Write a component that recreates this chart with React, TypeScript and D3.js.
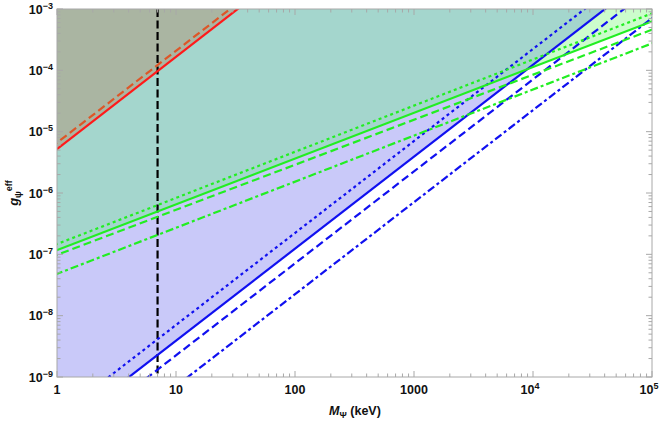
import React from "react";
import * as d3 from "d3";

const W = 664;
const H = 426;
const plotLeft = 57;
const plotRight = 652;
const plotTop = 9;
const plotBottom = 377;

const xDomain = [1, 1e5];
const yDomain = [1e-9, 1e-3];

const xMajorTicks = [1, 10, 100, 1000, 1e4, 1e5];
const xTickBase = ["1", "10", "100", "1000", "10", "10"];
const xTickExp = ["", "", "", "", "4", "5"];
const yMajorTicks = [1e-9, 1e-8, 1e-7, 1e-6, 1e-5, 1e-4, 1e-3];
const yTickExp = ["−9", "−8", "−7", "−6", "−5", "−4", "−3"];

// each line given by two points (M in keV, g)
const redSolid: [number, number][] = [[1, 5.2e-6], [33, 1e-3]];
const redDashed: [number, number][] = [[1, 6.6e-6], [28.5, 1e-3]];
const blueDotted: [number, number][] = [[2.72, 1e-9], [2.72e4, 1e-3]];
const blueSolid: [number, number][] = [[4.03, 1e-9], [4.03e4, 1e-3]];
const blueDashed: [number, number][] = [[5.82, 1e-9], [5.82e4, 1e-3]];
const blueDotDash: [number, number][] = [[12.6, 1e-9], [1e5, 7.1e-4]];
const greenDotted: [number, number][] = [[1, 1.47e-7], [1e5, 8.5e-4]];
const greenSolid: [number, number][] = [[1, 1.17e-7], [1e5, 6.3e-4]];
const greenDashed: [number, number][] = [[1, 9.8e-8], [1e5, 4.6e-4]];
const greenDotDash: [number, number][] = [[1, 4.8e-8], [1e5, 2.75e-4]];
const verticalMass = [7];

const DOT = "3,3.2";
const DASH = "8,4";
const DOTDASH = "8,3,3,3";

const lineStyles = [
  { pts: blueDotted, color: "#1010f0", dash: DOT },
  { pts: blueSolid, color: "#1010f0", dash: "" },
  { pts: blueDashed, color: "#1010f0", dash: DASH },
  { pts: blueDotDash, color: "#1010f0", dash: DOTDASH },
  { pts: greenDotted, color: "#22ee22", dash: DOT },
  { pts: greenSolid, color: "#22ee22", dash: "" },
  { pts: greenDashed, color: "#22ee22", dash: DASH },
  { pts: greenDotDash, color: "#22ee22", dash: DOTDASH },
  { pts: redDashed, color: "#dd5628", dash: DASH },
  { pts: redSolid, color: "#ff1a1a", dash: "" },
];

const x = d3.scaleLog().domain(xDomain).range([plotLeft, plotRight]);
const y = d3.scaleLog().domain(yDomain).range([plotBottom, plotTop]);

function extended(pts: [number, number][]): [number, number][] {
  const [a, b] = pts;
  const x1 = x(a[0]), y1 = y(a[1]), x2 = x(b[0]), y2 = y(b[1]);
  const s = (y2 - y1) / (x2 - x1);
  const xa = -500, xb = 1500;
  return [[xa, y1 + s * (xa - x1)], [xb, y1 + s * (xb - x1)]];
}

function areaAbove(pts: [number, number][]): string {
  const [p, q] = extended(pts);
  const top = -5000;
  return `M${p[0]},${p[1]}L${q[0]},${q[1]}L${q[0]},${top}L${p[0]},${top}Z`;
}

function linePath(pts: [number, number][]): string {
  const e = extended(pts);
  return d3.line()(e) || "";
}

const font = "'Liberation Sans', Arial, sans-serif";

export default function App() {
  const minorX = x.ticks().filter((v) => v >= 1 && v <= 1e5);
  const minorY = y.ticks().filter((v) => v >= 1e-9 && v <= 1e-3);
  const frame = "#a8a8a8";
  return (
    <svg width={W} height={H} style={{ position: "absolute", left: 0, top: 0, background: "#fff" }}>
      <defs>
        <clipPath id="plotClip">
          <rect x={plotLeft} y={plotTop} width={plotRight - plotLeft} height={plotBottom - plotTop} />
        </clipPath>
        <clipPath id="blueClip">
          <path d={areaAbove(blueSolid)} />
        </clipPath>
      </defs>
      <g clipPath="url(#plotClip)">
        <path d={areaAbove(blueSolid)} fill="#c9c9f9" />
        <path d={areaAbove(greenSolid)} fill="#ccfdcc" />
        <g clipPath="url(#blueClip)">
          <path d={areaAbove(greenSolid)} fill="#a4d6cd" />
        </g>
        <path d={areaAbove(redSolid)} fill="#aab5a2" />
        {verticalMass.map((m) => (
          <line key={m} x1={x(m)} x2={x(m)} y1={plotTop} y2={plotBottom} stroke="#000" strokeWidth={2.2} strokeDasharray="8,3.5" />
        ))}
        {lineStyles.map((l, i) => (
          <path key={i} d={linePath(l.pts)} fill="none" stroke={l.color} strokeWidth={2.2} strokeDasharray={l.dash || undefined} />
        ))}
      </g>
      <rect x={plotLeft} y={plotTop} width={plotRight - plotLeft} height={plotBottom - plotTop} fill="none" stroke={frame} strokeWidth={1} />
      {minorX.map((v, i) => {
        const major = xMajorTicks.includes(v);
        const len = major ? 6 : 3.5;
        const px = x(v);
        return (
          <g key={"xt" + i}>
            <line x1={px} x2={px} y1={plotBottom} y2={plotBottom - len} stroke={frame} />
            <line x1={px} x2={px} y1={plotTop} y2={plotTop + len} stroke={frame} />
          </g>
        );
      })}
      {minorY.map((v, i) => {
        const major = yMajorTicks.some((t) => Math.abs(Math.log10(t) - Math.log10(v)) < 1e-6);
        const len = major ? 6 : 3.5;
        const py = y(v);
        return (
          <g key={"yt" + i}>
            <line x1={plotLeft} x2={plotLeft + len} y1={py} y2={py} stroke={frame} />
            <line x1={plotRight} x2={plotRight - len} y1={py} y2={py} stroke={frame} />
          </g>
        );
      })}
      {xMajorTicks.map((v, i) => (
        <text key={"xl" + i} x={x(v) + (xTickExp[i] ? -3 : 0)} y={plotBottom + 17} textAnchor="middle" fontFamily={font} fontWeight="bold" fontSize={12.5} fill="#111">
          {xTickBase[i]}
          {xTickExp[i] ? <tspan dy={-5} fontSize={9}>{xTickExp[i]}</tspan> : null}
        </text>
      ))}
      {yMajorTicks.map((v, i) => (
        <text key={"yl" + i} x={plotLeft - 4} y={y(v) + 4.5} textAnchor="end" fontFamily={font} fontWeight="bold" fontSize={12.5} fill="#111">
          10
          <tspan dy={-5} fontSize={9}>{yTickExp[i]}</tspan>
        </text>
      ))}
      <text x={355} y={415} textAnchor="middle" fontFamily={font} fontWeight="bold" fontSize={12.5} fill="#111">
        <tspan fontStyle="italic">M</tspan>
        <tspan dy={3} fontSize={9}>Ψ</tspan>
        <tspan dy={-3}> (keV)</tspan>
      </text>
      <text transform="translate(18,193) rotate(-90)" textAnchor="middle" fontFamily={font} fontWeight="bold" fontSize={13} fill="#111">
        <tspan fontStyle="italic">g</tspan>
        <tspan dy={3} fontSize={9}>ψ</tspan>
        <tspan dy={-9} fontSize={9}>eff</tspan>
      </text>
    </svg>
  );
}
